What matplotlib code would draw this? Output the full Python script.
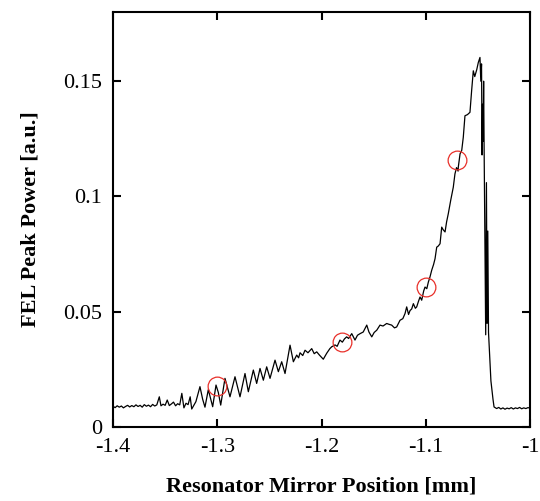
import matplotlib
matplotlib.use("Agg")
import matplotlib.pyplot as plt

plt.rcParams['font.family'] = ['Liberation Serif', 'DejaVu Serif']
plt.rcParams['axes.unicode_minus'] = False

position = [
    -1.400, -1.398, -1.396, -1.394, -1.392, -1.390, -1.388, -1.386, -1.384, -1.382,
    -1.380, -1.378, -1.376, -1.374, -1.372, -1.370, -1.368, -1.366, -1.364, -1.362,
    -1.360, -1.358, -1.3556, -1.354, -1.352, -1.350, -1.348, -1.346, -1.344, -1.342,
    -1.340, -1.338, -1.336, -1.334, -1.332, -1.330, -1.328, -1.326, -1.3245, -1.3205,
    -1.3166, -1.3140, -1.3118, -1.3086, -1.3044, -1.3012, -1.2990, -1.2967, -1.2926, -1.2878,
    -1.2830, -1.2782, -1.2734, -1.2702, -1.2654, -1.2622, -1.2590, -1.2558, -1.2526, -1.2494,
    -1.2446, -1.2414, -1.2382, -1.2350, -1.2302, -1.2270, -1.2238, -1.2220, -1.2206, -1.2180,
    -1.2158, -1.2130, -1.2094, -1.2070, -1.2046, -1.2020, -1.1983, -1.1950, -1.1920, -1.1902,
    -1.1870, -1.1850, -1.1823, -1.1800, -1.1780, -1.1759, -1.1740, -1.1710, -1.1679, -1.1655,
    -1.1630, -1.1600, -1.1566, -1.1545, -1.1518, -1.1495, -1.1470, -1.1439, -1.1410, -1.1375,
    -1.1350, -1.1327, -1.1300, -1.1279, -1.1247, -1.1220, -1.1199, -1.1183, -1.1165, -1.1151,
    -1.1135, -1.1119, -1.1100, -1.1087, -1.1070, -1.1055, -1.1039, -1.1020, -1.1007, -1.0990,
    -1.0975, -1.0960, -1.0943, -1.0925, -1.0911, -1.0895, -1.0880, -1.0863, -1.0847, -1.0832,
    -1.0815, -1.0800, -1.0784, -1.0760, -1.0736, -1.0720, -1.0705, -1.0690, -1.0688, -1.0671,
    -1.0655, -1.0640, -1.0624, -1.0600, -1.0576, -1.0560, -1.0544, -1.0530, -1.0511, -1.0496,
    -1.0480, -1.0472, -1.0465, -1.0460, -1.0455, -1.0450, -1.0445, -1.0440, -1.0425, -1.0418,
    -1.0412, -1.0405, -1.0398, -1.0375, -1.0355, -1.0345, -1.0320, -1.0300, -1.0280, -1.0260,
    -1.0240, -1.0220, -1.0200, -1.0180, -1.0160, -1.0140, -1.0120, -1.0100, -1.0080, -1.0060,
    -1.0040, -1.0020, -1.0000,
]

peak_power = [
    0.0090, 0.0084, 0.0092, 0.0086, 0.0091, 0.0083, 0.0089, 0.0094, 0.0087, 0.0093,
    0.0088, 0.0096, 0.0089, 0.0094, 0.0086, 0.0097, 0.0090, 0.0095, 0.0088, 0.0098,
    0.0091, 0.0096, 0.0131, 0.0092, 0.0099, 0.0094, 0.0117, 0.0093, 0.0100, 0.0108,
    0.0092, 0.0101, 0.0096, 0.0146, 0.0083, 0.0103, 0.0097, 0.0131, 0.0078, 0.0110,
    0.0175, 0.0120, 0.0086, 0.0162, 0.0088, 0.0182, 0.0150, 0.0095, 0.0211, 0.0131,
    0.0218, 0.0131, 0.0232, 0.0153, 0.0247, 0.0189, 0.0254, 0.0203, 0.0261, 0.0211,
    0.0290, 0.0240, 0.0283, 0.0232, 0.0355, 0.0283, 0.0312, 0.0300, 0.0322, 0.0310,
    0.0333, 0.0322, 0.0340, 0.0318, 0.0326, 0.0312, 0.0294, 0.0320, 0.0340, 0.0348,
    0.0356, 0.0350, 0.0377, 0.0368, 0.0382, 0.0391, 0.0384, 0.0405, 0.0377, 0.0398,
    0.0405, 0.0412, 0.0442, 0.0412, 0.0391, 0.0410, 0.0420, 0.0442, 0.0438, 0.0449,
    0.0445, 0.0442, 0.0430, 0.0434, 0.0463, 0.0470, 0.0492, 0.0521, 0.0488, 0.0505,
    0.0512, 0.0535, 0.0515, 0.0521, 0.0545, 0.0564, 0.0550, 0.0590, 0.0607, 0.0600,
    0.0629, 0.0650, 0.0680, 0.0705, 0.0730, 0.0780, 0.0785, 0.0795, 0.0867, 0.0855,
    0.0846, 0.0890, 0.0925, 0.0985, 0.1040, 0.1098, 0.1125, 0.1110, 0.1127, 0.1185,
    0.1200, 0.1257, 0.1350, 0.1355, 0.1365, 0.1459, 0.1545, 0.1520, 0.1550, 0.1581,
    0.1603, 0.1500, 0.1575, 0.1180, 0.1400, 0.1240, 0.1500, 0.1200, 0.0400, 0.1060,
    0.0450, 0.0850, 0.0410, 0.0200, 0.0120, 0.0087, 0.0080, 0.0085, 0.0078, 0.0083,
    0.0077, 0.0082, 0.0079, 0.0084, 0.0078, 0.0083, 0.0080, 0.0085, 0.0079, 0.0083,
    0.0080, 0.0084, 0.0082,
]

marked_position = [-1.300, -1.180, -1.100, -1.070]
marked_power = [0.0177, 0.0369, 0.0607, 0.1159]

x_ticks = [-1.4, -1.3, -1.2, -1.1, -1.0]
x_tick_labels = ['-1.4', '-1.3', '-1.2', '-1.1', '-1']
y_ticks = [0, 0.05, 0.1, 0.15]
y_tick_labels = ['0', '0.05', '0.1', '0.15']

fig = plt.figure(figsize=(5.40, 5.01), dpi=100)
ax = fig.add_axes([0.2093, 0.1477, 0.7722, 0.8283])

ax.plot(position, peak_power, color='black', lw=0.9)
ax.plot(marked_position, marked_power, linestyle='none', marker='o',
        markersize=13.5, markerfacecolor='none', markeredgecolor='#e8302a',
        markeredgewidth=0.9)

ax.set_xlim(-1.4, -1.0)
ax.set_ylim(0, 0.18)
ax.set_xticks(x_ticks)
ax.set_xticklabels(x_tick_labels)
ax.set_yticks(y_ticks)
ax.set_yticklabels(y_tick_labels)

ax.tick_params(direction='in', length=6, width=1.5, labelsize=16,
               top=True, right=True)
ax.tick_params(axis='x', pad=8)
ax.tick_params(axis='y', pad=8)
for s in ax.spines.values():
    s.set_linewidth(1.5)

ax.set_xlabel('Resonator Mirror Position [mm]', fontsize=16, fontweight='bold', labelpad=14)
ax.set_ylabel('FEL Peak Power [a.u.]', fontsize=16, fontweight='bold', labelpad=16)

fig.savefig('out.png', dpi=100)
